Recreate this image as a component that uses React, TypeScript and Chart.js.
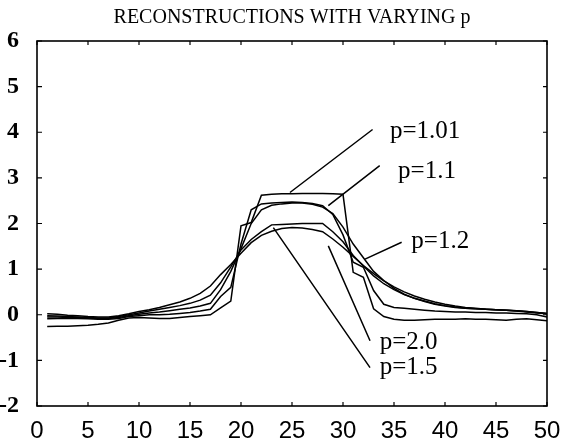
import React, { useEffect, useRef } from "react";
import { Chart, registerables } from "chart.js";

Chart.register(...registerables);

const TITLE = "RECONSTRUCTIONS WITH VARYING p";

const xPositions = [
  1, 2, 3, 4, 5, 6, 7, 8, 9, 10,
  11, 12, 13, 14, 15, 16, 17, 18, 19, 20,
  21, 22, 23, 24, 25, 26, 27, 28, 29, 30,
  31, 32, 33, 34, 35, 36, 37, 38, 39, 40,
  41, 42, 43, 44, 45, 46, 47, 48, 49, 50,
];

const p101 = [
  -0.26, -0.25, -0.25, -0.24, -0.23, -0.21, -0.18, -0.12, -0.07, -0.06,
  -0.07, -0.08, -0.08, -0.06, -0.04, -0.02, 0.0, 0.15, 0.3, 1.95,
  2.02, 2.62, 2.64, 2.65, 2.65, 2.66, 2.66, 2.66, 2.65, 2.64,
  0.93, 0.82, 0.13, -0.04, -0.1, -0.12, -0.12, -0.11, -0.1, -0.1,
  -0.1, -0.09, -0.1, -0.1, -0.11, -0.12, -0.1, -0.09, -0.11, -0.13,
];

const p11 = [
  -0.09, -0.08, -0.08, -0.08, -0.09, -0.1, -0.1, -0.08, -0.04, -0.02,
  0.0, 0.0, 0.01, 0.03, 0.05, 0.08, 0.12, 0.4, 0.6, 1.55,
  2.3, 2.43, 2.45, 2.46, 2.47, 2.46, 2.44, 2.39, 2.2, 1.75,
  1.15, 1.04, 0.53, 0.23, 0.16, 0.14, 0.12, 0.1, 0.08, 0.07,
  0.06, 0.06, 0.05, 0.05, 0.04, 0.04, 0.03, 0.02, 0.0, -0.05,
];

const p12 = [
  -0.05, -0.05, -0.06, -0.06, -0.07, -0.08, -0.08, -0.06, -0.02, 0.01,
  0.04, 0.06, 0.09, 0.12, 0.15, 0.19, 0.25, 0.55, 0.95, 1.45,
  2.0, 2.3, 2.4, 2.43, 2.45, 2.45, 2.42, 2.36, 2.22, 1.92,
  1.55, 1.25, 0.95, 0.75, 0.58, 0.45, 0.36, 0.3, 0.24, 0.2,
  0.17, 0.14, 0.13, 0.12, 0.11, 0.1, 0.08, 0.06, 0.04, 0.02,
];

const p15 = [
  -0.02, -0.03, -0.04, -0.05, -0.06, -0.07, -0.07, -0.04, 0.0, 0.04,
  0.08, 0.12, 0.16, 0.2, 0.25, 0.32, 0.43, 0.7, 1.05, 1.42,
  1.65, 1.82, 1.97, 1.98, 1.99, 2.0, 2.0, 2.0, 1.82, 1.6,
  1.3, 1.07, 0.85, 0.68, 0.55, 0.44, 0.36, 0.29, 0.23, 0.19,
  0.16, 0.14, 0.13, 0.12, 0.11, 0.1, 0.09, 0.07, 0.05, 0.03,
];

const p20 = [
  0.02, 0.01, -0.01, -0.02, -0.04, -0.05, -0.05, -0.02, 0.02, 0.07,
  0.11, 0.16, 0.22, 0.28, 0.36, 0.47, 0.63, 0.88, 1.1, 1.35,
  1.58, 1.74, 1.83, 1.89, 1.91, 1.9, 1.87, 1.82, 1.66, 1.48,
  1.28, 1.08, 0.9, 0.74, 0.61, 0.5, 0.41, 0.34, 0.28, 0.23,
  0.19, 0.16, 0.14, 0.12, 0.11, 0.1, 0.09, 0.07, 0.05, 0.03,
];

const seriesList = [p101, p11, p12, p15, p20];

// Leader-line labels: text, label anchor (data), leader start (data), leader end (data)
const labelTexts = ["p=1.01", "p=1.1", "p=1.2", "p=2.0", "p=1.5"];
const labelAnchors = [
  [34.6, 3.88],
  [35.4, 3.0],
  [36.7, 1.47],
  [33.6, -0.75],
  [33.6, -1.29],
];
const leaderStarts = [
  [24.8, 2.68],
  [28.56, 2.39],
  [32.16, 1.22],
  [28.56, 1.51],
  [23.17, 1.91],
];
const leaderEnds = [
  [32.9, 4.06],
  [33.6, 3.27],
  [35.75, 1.59],
  [32.65, -0.57],
  [32.65, -1.16],
];

const xTickValues = [0, 5, 10, 15, 20, 25, 30, 35, 40, 45, 50];
const yTickValues = [-2, -1, 0, 1, 2, 3, 4, 5, 6];

const framePlugin = {
  id: "framePlugin",
  afterDatasetsDraw(chart: any) {
    const { ctx, chartArea, scales } = chart;
    const xs = scales.x;
    const ys = scales.y;
    ctx.save();
    ctx.strokeStyle = "#000";
    ctx.lineWidth = 1.6;
    ctx.strokeRect(chartArea.left, chartArea.top, chartArea.right - chartArea.left, chartArea.bottom - chartArea.top);
    ctx.lineWidth = 1.2;
    const tl = 4;
    ctx.beginPath();
    xTickValues.forEach((v) => {
      const px = xs.getPixelForValue(v);
      ctx.moveTo(px, chartArea.bottom);
      ctx.lineTo(px, chartArea.bottom - tl);
      ctx.moveTo(px, chartArea.top);
      ctx.lineTo(px, chartArea.top + tl);
    });
    yTickValues.forEach((v) => {
      const py = ys.getPixelForValue(v);
      ctx.moveTo(chartArea.left, py);
      ctx.lineTo(chartArea.left + tl + 1, py);
      ctx.moveTo(chartArea.right, py);
      ctx.lineTo(chartArea.right - tl, py);
    });
    ctx.stroke();

    // leader lines
    ctx.lineWidth = 1.5;
    ctx.beginPath();
    leaderStarts.forEach((s, i) => {
      const e = leaderEnds[i];
      ctx.moveTo(xs.getPixelForValue(s[0]), ys.getPixelForValue(s[1]));
      ctx.lineTo(xs.getPixelForValue(e[0]), ys.getPixelForValue(e[1]));
    });
    ctx.stroke();

    // labels
    ctx.fillStyle = "#000";
    ctx.font = "25px 'Liberation Serif', 'Times New Roman', serif";
    ctx.textAlign = "left";
    ctx.textBaseline = "alphabetic";
    labelTexts.forEach((t, i) => {
      const a = labelAnchors[i];
      ctx.fillText(t, xs.getPixelForValue(a[0]), ys.getPixelForValue(a[1]));
    });

    // title
    ctx.font = "20px 'Liberation Serif', 'Times New Roman', serif";
    ctx.textAlign = "center";
    ctx.fillText(TITLE, (chartArea.left + chartArea.right) / 2, 23);
    ctx.restore();
  },
};

export default function App() {
  const canvasRef = useRef<HTMLCanvasElement | null>(null);

  useEffect(() => {
    const canvas = canvasRef.current;
    if (!canvas) return;
    const datasets = seriesList.map((s, i) => ({
      label: labelTexts[i],
      data: xPositions.map((x, j) => ({ x, y: s[j] })),
      borderColor: "#000",
      backgroundColor: "#000",
      borderWidth: 1.5,
      pointRadius: 0,
      tension: 0,
      fill: false,
    }));
    const chart = new Chart(canvas, {
      type: "line",
      data: { datasets },
      options: {
        animation: false,
        responsive: false,
        maintainAspectRatio: false,
        layout: { padding: { left: 0, right: 22, top: 41, bottom: 0 } },
        plugins: {
          legend: { display: false },
          title: { display: false },
          tooltip: { enabled: false },
        },
        scales: {
          x: {
            type: "linear",
            min: 0,
            max: 50,
            grid: { display: false },
            border: { display: false },
            afterBuildTicks: (scale: any) => {
              scale.ticks = xTickValues.map((v) => ({ value: v }));
            },
            afterFit: (scale: any) => {
              scale.height = 36;
            },
            ticks: {
              autoSkip: false,
              maxRotation: 0,
              minRotation: 0,
              padding: 3,
              color: "#000",
              font: { family: "'Liberation Sans', Arial, sans-serif", size: 24 },
            },
          },
          y: {
            type: "linear",
            min: -2,
            max: 6,
            grid: { display: false },
            border: { display: false },
            afterBuildTicks: (scale: any) => {
              scale.ticks = yTickValues.map((v) => ({ value: v }));
            },
            afterFit: (scale: any) => {
              scale.width = 37;
            },
            ticks: {
              autoSkip: false,
              padding: 10,
              color: "#000",
              font: { family: "'Liberation Serif', 'Times New Roman', serif", size: 24, weight: "bold" },
            },
          },
        },
      },
      plugins: [framePlugin],
    });
    return () => chart.destroy();
  }, []);

  return (
    <div style={{ position: "fixed", left: 0, top: 0, width: 569, height: 442, background: "#fff" }}>
      <canvas ref={canvasRef} width={569} height={442} style={{ width: 569, height: 442, display: "block" }} />
    </div>
  );
}
